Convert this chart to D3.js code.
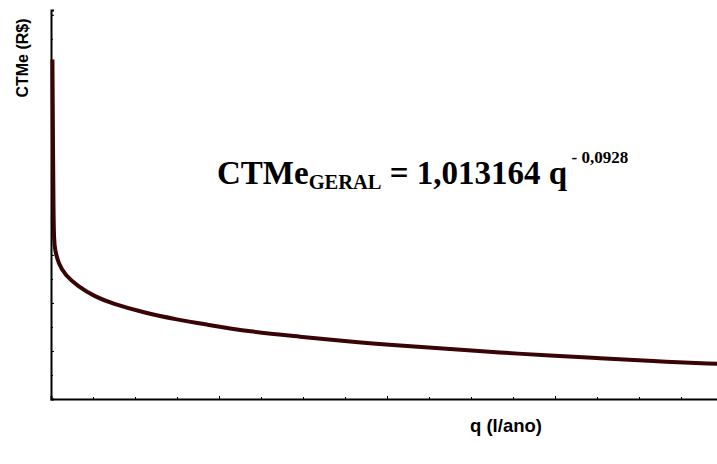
<!DOCTYPE html>
<html>
<head>
<meta charset="utf-8">
<script src="https://cdn.jsdelivr.net/npm/d3@7"></script>
<style>
  body { margin: 0; background: #fff; }
  #chart svg { display: block; }
</style>
</head>
<body>
<div id="chart"></div>
<script>
console.log("ctme chart is loaded")

// quantidade produzida (l/ano)
var qValues = [17, 24, 30, 36, 48, 87, 167, 325, 524, 723, 1119, 1512, 1821, 2369, 2964, 3560, 4155, 4750, 5345, 5941, 6536, 7131, 7950];
// custo total medio (R$)
var ctmeValues = [1.057, 0.869, 0.733, 0.681, 0.660, 0.633, 0.608, 0.584, 0.563, 0.549, 0.529, 0.515, 0.506, 0.490, 0.480, 0.469, 0.461, 0.454, 0.447, 0.440, 0.435, 0.429, 0.423];

var xMinorTicks = d3.range(0, 8001, 500);
var xMajorTicks = d3.range(0, 8001, 2000);
var yMinorTicks = d3.range(0.35, 1.161, 0.05);
var yMajorTicks = [0.35, 0.45, 0.55, 0.65, 0.75, 0.85, 0.95, 1.05, 1.15];

var yLabel = "CTMe (R$)";
var xLabel = "q (l/ano)";

function drawChart() {
    var width = 717;
    var height = 464;

    var svg = d3.select("#chart").append("svg")
        .attr("width", width)
        .attr("height", height);

    /* Scales */
    var xScale = d3.scaleLinear()
        .domain([0, 8000])
        .range([51, 723]);

    var yScale = d3.scaleLinear()
        .domain([0.35, 1.16])
        .range([399, 10]);

    var data = qValues.map((q, i) => ({q: q, v: ctmeValues[i]}));

    /* Axes - tiny inward ticks, no labels */
    svg.append("g")
        .attr("class", "x axis minor")
        .attr("transform", "translate(0,399)")
        .call(d3.axisTop(xScale).tickValues(xMinorTicks).tickSize(2).tickFormat(""));
    svg.append("g")
        .attr("class", "x axis major")
        .attr("transform", "translate(0,399)")
        .call(d3.axisTop(xScale).tickValues(xMajorTicks).tickSize(3).tickFormat(""));

    svg.append("g")
        .attr("class", "y axis minor")
        .attr("transform", "translate(51,0)")
        .call(d3.axisRight(yScale).tickValues(yMinorTicks).tickSize(2).tickFormat(""));
    svg.append("g")
        .attr("class", "y axis major")
        .attr("transform", "translate(51,0)")
        .call(d3.axisRight(yScale).tickValues(yMajorTicks).tickSize(3).tickFormat(""));

    svg.selectAll(".axis path").attr("stroke", "#000").attr("stroke-width", 2);
    svg.selectAll(".axis line").attr("stroke", "#000").attr("stroke-width", 1);
    svg.selectAll(".axis.minor path").attr("stroke", "none");

    /* Curve - basis smooths out the reading jitter */
    var line = d3.line()
        .x(d => xScale(d.q))
        .y(d => yScale(d.v))
        .curve(d3.curveBasis);

    svg.append("path")
        .datum(data)
        .attr("class", "line")
        .attr("d", line)
        .style("fill", "none")
        .style("stroke", "#380404")
        .style("stroke-width", 4)
        .style("stroke-linejoin", "round");

    /* Axis titles */
    svg.append("text")
        .attr("transform", "translate(28,58) rotate(-90)")
        .attr("text-anchor", "middle")
        .style("font-family", "Liberation Sans, Arial, sans-serif")
        .style("font-weight", "bold")
        .style("font-size", "16px")
        .text(yLabel);

    svg.append("text")
        .attr("x", 470)
        .attr("y", 432)
        .style("font-family", "Liberation Sans, Arial, sans-serif")
        .style("font-weight", "bold")
        .style("font-size", "18.5px")
        .text(xLabel);

    /* Equation */
    var eq = svg.append("text")
        .attr("x", 217)
        .attr("y", 184)
        .style("font-family", "Liberation Serif, Times New Roman, serif")
        .style("font-weight", "bold")
        .style("font-size", "33px");
    eq.append("tspan").text("CTMe");
    eq.append("tspan").attr("dy", 5).style("font-size", "20.5px").text("GERAL");
    eq.append("tspan").attr("dy", -5).text(" = 1,013164 q");
    eq.append("tspan").attr("dy", -21).style("font-size", "17px").text(" - 0,0928");
};
drawChart();
</script>
</body>
</html>
